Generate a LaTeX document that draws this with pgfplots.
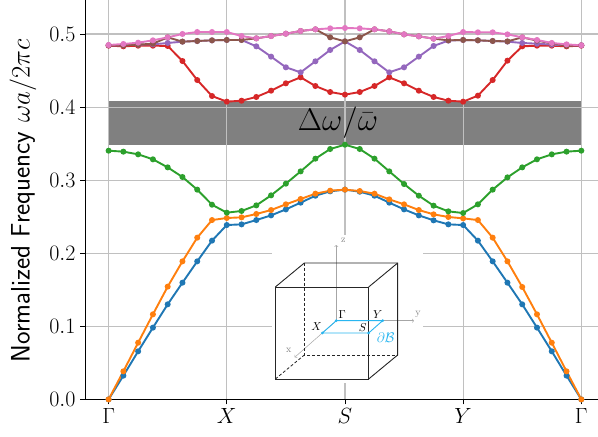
\RequirePackage{fix-cm}
\documentclass[border=0pt]{standalone}
\usepackage{pgfplots}
\usepackage{pgfplotstable}
\pgfplotsset{compat=1.18}
\definecolor{mblue}{HTML}{1F77B4}
\definecolor{morange}{HTML}{FF7F0E}
\definecolor{mgreen}{HTML}{2CA02C}
\definecolor{mred}{HTML}{D62728}
\definecolor{mpurple}{HTML}{9467BD}
\definecolor{mbrown}{HTML}{8C564B}
\definecolor{mpink}{HTML}{E377C2}
\definecolor{mgrid}{HTML}{C0C0C0}
\definecolor{mcyan}{HTML}{29B6F0}
\pgfplotstableread{
i blue orange green red purple brown pink
0 0.0000 0.0000 0.3403 0.4840 0.4845 0.4845 0.4849
1 0.0325 0.0384 0.3390 0.4831 0.4845 0.4845 0.4863
2 0.0658 0.0776 0.3353 0.4840 0.4854 0.4854 0.4881
3 0.0982 0.1164 0.3285 0.4840 0.4858 0.4867 0.4913
4 0.1301 0.1543 0.3175 0.4836 0.4877 0.4954 0.4954
5 0.1597 0.1889 0.3043 0.4630 0.4895 0.4895 0.5000
6 0.1889 0.2213 0.2870 0.4370 0.4904 0.4904 0.5027
7 0.2172 0.2454 0.2664 0.4151 0.4913 0.4913 0.5027
8 0.2386 0.2482 0.2555 0.4074 0.4918 0.4918 0.5027
9 0.2395 0.2491 0.2578 0.4087 0.4918 0.4918 0.4972
10 0.2454 0.2537 0.2655 0.4138 0.4831 0.4940 0.4940
11 0.2518 0.2591 0.2792 0.4224 0.4690 0.4972 0.4972
12 0.2600 0.2669 0.2952 0.4325 0.4544 0.5004 0.5004
13 0.2692 0.2742 0.3120 0.4407 0.4475 0.5041 0.5041
14 0.2787 0.2815 0.3294 0.4288 0.4626 0.5064 0.5064
15 0.2847 0.2856 0.3426 0.4206 0.4781 0.4954 0.5077
16 0.2870 0.2870 0.3485 0.4170 0.4899 0.4899 0.5082
17 0.2842 0.2851 0.3426 0.4206 0.4781 0.4954 0.5077
18 0.2787 0.2815 0.3294 0.4288 0.4626 0.5064 0.5064
19 0.2692 0.2737 0.3120 0.4407 0.4475 0.5036 0.5036
20 0.2600 0.2669 0.2947 0.4325 0.4544 0.4995 0.4995
21 0.2518 0.2591 0.2787 0.4224 0.4690 0.4968 0.4968
22 0.2450 0.2532 0.2651 0.4138 0.4836 0.4936 0.4936
23 0.2395 0.2496 0.2573 0.4087 0.4909 0.4913 0.4972
24 0.2386 0.2477 0.2550 0.4074 0.4918 0.4918 0.5027
25 0.2172 0.2454 0.2669 0.4156 0.4913 0.4913 0.5023
26 0.1889 0.2213 0.2870 0.4370 0.4904 0.4904 0.5023
27 0.1597 0.1889 0.3038 0.4635 0.4895 0.4899 0.4995
28 0.1301 0.1538 0.3175 0.4831 0.4877 0.4954 0.4954
29 0.0982 0.1164 0.3285 0.4840 0.4867 0.4909 0.4918
30 0.0658 0.0776 0.3353 0.4840 0.4854 0.4872 0.4877
31 0.0325 0.0384 0.3390 0.4831 0.4845 0.4840 0.4858
32 0.0000 0.0000 0.3403 0.4840 0.4845 0.4845 0.4845
}\bands
\pgfplotsset{band/.style={line width=1.9pt,mark=*,mark size=2.0pt,mark options={solid},#1}}
\begin{document}
\begin{tikzpicture}[x=1pt,y=1pt]
\path[use as bounding box] (0,0) rectangle (598,437);
\begin{axis}[
  at={(85.5pt,37.6pt)},anchor=south west,
  scale only axis,width=512.5pt,height=399.4pt,
  xmin=-1.564,xmax=33.13,ymin=0,ymax=0.5465,
  axis x line=bottom,axis y line=left,
  axis line style={black,line width=0.9pt,-},
  tick style={black,line width=0.9pt},
  tick align=outside,major tick length=5pt,
  xtick={0,8,16,24,32},
  xticklabels={$\Gamma$,$X$,$S$,$Y$,$\Gamma$},
  ytick={0,0.1,0.2,0.3,0.4,0.5},
  yticklabel style={/pgf/number format/fixed,/pgf/number format/precision=1,/pgf/number format/fixed zerofill,xshift=-1.5pt},
  scaled y ticks=false,
  tick label style={font=\fontsize{22}{24}\selectfont},
  xticklabel style={yshift=-1pt},
  grid=major,grid style={mgrid,line width=1.1pt},
  clip=false,
]
\addplot[fill=gray,draw=none,forget plot] coordinates {(0,0.3476)(32,0.3476)(32,0.4078)(0,0.4078)} -- cycle;
\addplot[mgrid,line width=1.1pt,forget plot] coordinates {(0,0.4)(32,0.4)};
\addplot[mgrid,line width=1.1pt,forget plot] coordinates {(8,0.3476)(8,0.4078)};
\addplot[mgrid,line width=1.1pt,forget plot] coordinates {(16,0.3476)(16,0.4078)};
\addplot[mgrid,line width=1.1pt,forget plot] coordinates {(24,0.3476)(24,0.4078)};
\addplot[band={mblue}] table[x=i,y=blue]{\bands};
\addplot[band={morange}] table[x=i,y=orange]{\bands};
\addplot[band={mgreen}] table[x=i,y=green]{\bands};
\addplot[band={mred}] table[x=i,y=red]{\bands};
\addplot[band={mpurple}] table[x=i,y=purple]{\bands};
\addplot[band={mbrown}] table[x=i,y=brown]{\bands};
\addplot[band={mpink}] table[x=i,y=pink]{\bands};
\node[font=\fontsize{33}{35}\selectfont,inner sep=0pt] at (axis cs:15.53,0.3785) {\scalebox{0.95}{$\Delta\omega/\bar{\omega}$}};
\end{axis}
\node[rotate=90,inner sep=0pt,font=\fontsize{21.2}{24}\selectfont] at (23,236) {\scalebox{1.26}{\fontencoding{OT1}\fontfamily{cmss}\selectfont Normalized Frequency $\omega a/2\pi c$}};
\begin{scope}[shift={(260,207)},x=0.33333pt,y=-0.33333pt]
\fill[white] (36,15) rectangle (489,458);
\draw[gray!70,line width=0.5pt,->] (229,272) -- (229,45);
\draw[gray!70,line width=0.5pt,->] (229,272) -- (462,272);
\draw[gray!70,line width=0.5pt,->] (229,272) -- (104,382);
\node[gray,font=\fontsize{10}{11}\selectfont,inner sep=0pt] at (250,32) {z};
\node[gray,font=\fontsize{10}{11}\selectfont,inner sep=0pt] at (474,252) {y};
\node[gray,font=\fontsize{10}{11}\selectfont,inner sep=0pt] at (86,362) {x};
\draw[black!85,line width=0.9pt] (46,171) rectangle (326,447);
\draw[black!85,line width=0.9pt] (46,171) -- (133,99) -- (413,99) -- (413,375) -- (326,447);
\draw[black!85,line width=0.9pt] (326,171) -- (413,99);
\draw[black!85,line width=0.8pt,dashed,dash pattern=on 3pt off 2pt] (133,99) -- (133,375) -- (413,375);
\draw[black!85,line width=0.8pt,dashed,dash pattern=on 3pt off 2pt] (46,447) -- (133,375);
\draw[mcyan,line width=0.9pt] (229,272) -- (368,272) -- (326,309) -- (187,309) -- cycle;
\foreach \p in {(229,272),(368,272),(326,309),(187,309)} \fill[mcyan] \p circle (1.5pt);
\node[font=\fontsize{11.5}{12}\selectfont,inner sep=0pt] at (247,254) {$\Gamma$};
\node[font=\fontsize{11.5}{12}\selectfont,inner sep=0pt] at (353,254) {$Y$};
\node[font=\fontsize{11.5}{12}\selectfont,inner sep=0pt] at (308,293) {$S$};
\node[font=\fontsize{11.5}{12}\selectfont,inner sep=0pt] at (170,291) {$X$};
\node[mcyan,font=\fontsize{14}{15}\selectfont,inner sep=0pt] at (377,323) {$\partial\mathcal{B}$};
\end{scope}
\end{tikzpicture}
\end{document}
